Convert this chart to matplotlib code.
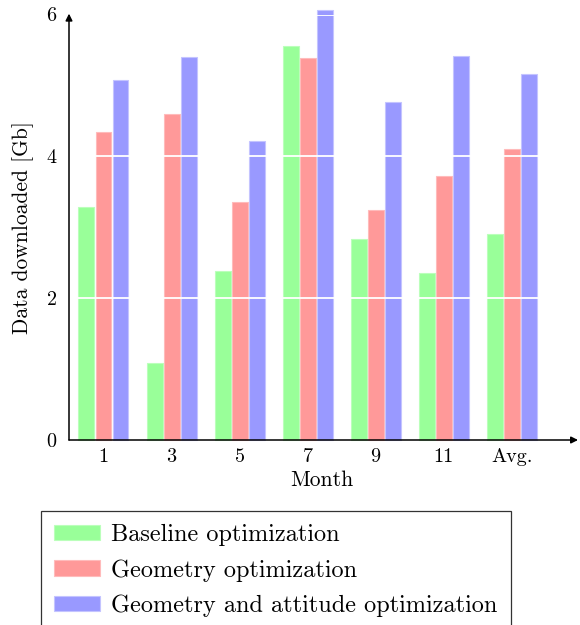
import numpy as np
import matplotlib
matplotlib.use("Agg")
import matplotlib.pyplot as plt

# Data
months = ["1", "3", "5", "7", "9", "11", "Avg."]
baseline = [3.28, 1.09, 2.38, 5.55, 2.83, 2.36, 2.91]
geometry = [4.34, 4.60, 3.35, 5.39, 3.25, 3.72, 4.10]
geom_att = [5.08, 5.40, 4.22, 6.06, 4.77, 5.42, 5.16]

series = [
    ("Baseline optimization", baseline, "#99ff99", "#bbffbb"),
    ("Geometry optimization", geometry, "#ff9999", "#ffbbbb"),
    ("Geometry and attitude optimization", geom_att, "#9999ff", "#c4c4ff"),
]

plt.rcParams["font.family"] = "cmr10"
plt.rcParams["mathtext.fontset"] = "cm"
plt.rcParams["axes.formatter.use_mathtext"] = True
fs = 14.5

fig = plt.figure(figsize=(5.8, 6.25), dpi=100)
ax = fig.add_axes([69 / 580, 185 / 625, 506 / 580, 425.5 / 625])

x = np.arange(len(months))
width = 0.235
offset = 0.25

handles = []
for i, (label, vals, color, edge) in enumerate(series):
    b = ax.bar(x + (i - 1) * offset, vals, width, color=color, edgecolor=edge,
               linewidth=0.8, label=label, clip_on=False, zorder=1)
    handles.append(b)

# white grid lines over the bars
for yv in [2, 4, 6]:
    ax.axhline(yv, color="white", lw=1.3, zorder=2)

ax.set_xlim(-0.507, 6.93)
ax.set_ylim(0, 6)
ax.set_xticks(x)
ax.set_xticklabels(months, fontsize=fs)
ax.set_yticks([0, 2, 4, 6])
ax.set_yticklabels(["0", "2", "4", "6"], fontsize=fs)
ax.tick_params(axis="x", length=0, pad=6)
ax.tick_params(axis="y", length=0, pad=9)
ax.set_xlabel("Month", fontsize=15.5, labelpad=3)
ax.set_ylabel("Data downloaded [Gb]", fontsize=15.5, labelpad=9)

for s in ax.spines.values():
    s.set_visible(False)

# axis arrows
ax.annotate("", xy=(1.006, 0), xytext=(0, 0), xycoords="axes fraction",
            arrowprops=dict(arrowstyle="-|>", color="black", lw=1.1,
                            mutation_scale=10, shrinkA=0, shrinkB=0), zorder=5)
ax.annotate("", xy=(0, 1.002), xytext=(0, 0), xycoords="axes fraction",
            arrowprops=dict(arrowstyle="-|>", color="black", lw=1.1,
                            mutation_scale=10, shrinkA=0, shrinkB=0), zorder=5)

leg = fig.legend(handles=handles, loc="upper left",
                 bbox_to_anchor=(41 / 580, 1 - 511 / 625), fontsize=17.5,
                 frameon=True, fancybox=False, edgecolor="black",
                 handlelength=1.88, handleheight=0.58, handletextpad=0.45,
                 labelspacing=0.52, borderpad=0.55, borderaxespad=0)
leg.get_frame().set_linewidth(0.9)

fig.savefig("out.png", dpi=100)
